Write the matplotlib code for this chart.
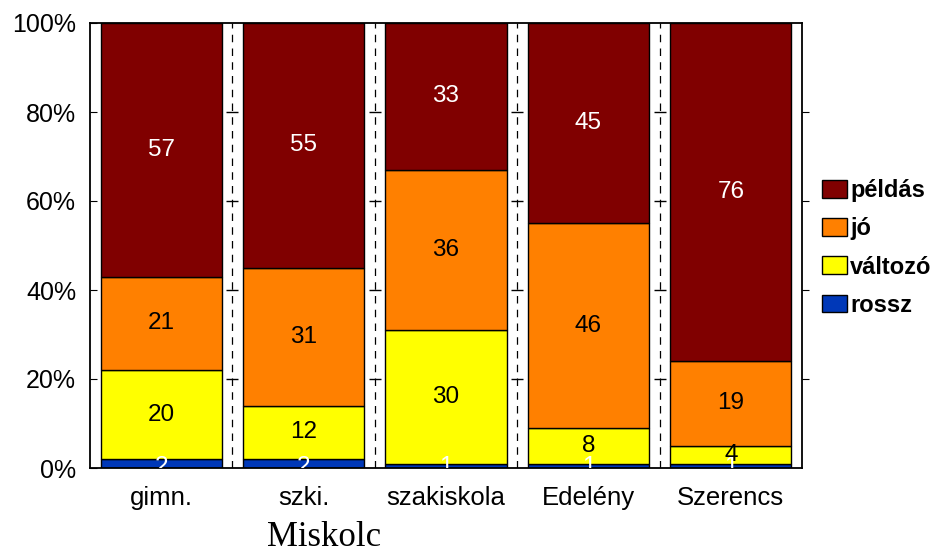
import numpy as np
import matplotlib
matplotlib.use("Agg")
import matplotlib.pyplot as plt

plt.rcParams['font.family'] = ['Liberation Sans', 'DejaVu Sans']

# adatok
categories = ['gimn.', 'szki.', 'szakiskola', 'Edelény', 'Szerencs']
rossz = [2, 2, 1, 1, 1]
valtozo = [20, 12, 30, 8, 4]
jo = [21, 31, 36, 46, 19]
peldas = [57, 55, 33, 45, 76]

series = [('rossz', rossz, '#0038b8', 'white'),
          ('változó', valtozo, '#ffff00', 'black'),
          ('jó', jo, '#ff8000', 'black'),
          ('példás', peldas, '#800000', 'white')]

fig = plt.figure(figsize=(9.39, 5.52), dpi=100)
ax = fig.add_axes([90 / 939, 1 - 468 / 552, 712 / 939, 445 / 552])

x = np.arange(len(categories))
bottom = np.zeros(len(categories))
handles = []
for i, (name, vals, col, tcol) in enumerate(series):
    vals = np.array(vals, dtype=float)
    b = ax.bar(x, vals, 0.85, bottom=bottom, color=col, edgecolor='black',
               linewidth=1, label=name)
    handles.append(b)
    for xi, v, b0 in zip(x, vals, bottom):
        # a legalsó sor címkéje az alapvonalon ül (le van vágva)
        y = b0 + 0.3 if i == 0 else b0 + v / 2
        ax.text(xi, y, f'{int(v)}', ha='center', va='center',
                color=tcol, fontsize=17.5, clip_on=True)
    bottom += vals

# szaggatott elválasztók
for xs in np.arange(0.5, len(categories) - 0.5, 1):
    ax.axvline(xs, color='black', linestyle=(0, (6, 5)), linewidth=0.9)
    ax.plot([xs] * 4, [20, 40, 60, 80], linestyle='none', marker='_',
            color='black', markersize=8, markeredgewidth=1)

ax.set_xlim(-0.5, len(categories) - 0.5)
ax.set_ylim(0, 100)
ax.set_yticks([0, 20, 40, 60, 80, 100])
ax.set_yticklabels(['0%', '20%', '40%', '60%', '80%', '100%'])
ax.set_xticks(x)
ax.set_xticklabels(categories)
ax.tick_params(axis='y', direction='in', labelsize=18, length=5, pad=10)
ax.tick_params(axis='x', length=0, labelsize=18.5, pad=13)
for s in ax.spines.values():
    s.set_linewidth(1.3)

# jobb oldali kifelé álló osztások
ax2 = ax.twinx()
ax2.set_ylim(0, 100)
ax2.set_yticks([20, 40, 60, 80])
ax2.tick_params(axis='y', direction='out', length=5, labelright=False)
for s in ax2.spines.values():
    s.set_visible(False)

leg = fig.legend(handles[::-1], [s[0] for s in series][::-1],
                 loc='center left', bbox_to_anchor=(822 / 939, 1 - 248 / 552),
                 frameon=False, prop={'weight': 'bold', 'size': 17},
                 handlelength=1.05, handleheight=0.78, handletextpad=0.15,
                 labelspacing=0.64, borderpad=0, borderaxespad=0)

fig.text(324 / 939, 1 - 537 / 552, 'Miskolc', family='Liberation Serif',
         fontsize=25, ha='center', va='center')

fig.savefig('out.png', dpi=100)
